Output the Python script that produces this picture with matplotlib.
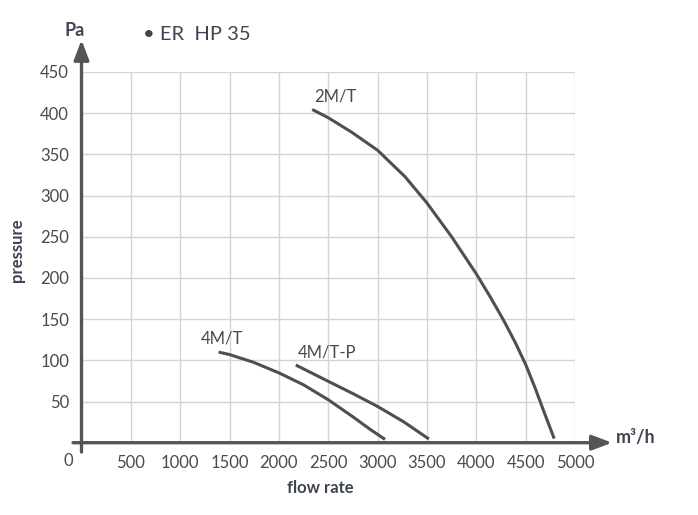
import matplotlib
matplotlib.use("Agg")
import matplotlib.pyplot as plt

plt.rcParams['font.family'] = ['Lato', 'DejaVu Sans']

# data
x_ticks = [500, 1000, 1500, 2000, 2500, 3000, 3500, 4000, 4500, 5000]
y_ticks = [50, 100, 150, 200, 250, 300, 350, 400, 450]

m2t_flow = [2338, 2500, 2736, 3000, 3277, 3500, 3750, 4000, 4141, 4275, 4393, 4500, 4594, 4678, 4789]
m2t_pres = [404.5, 394.5, 377, 355, 323, 291, 250, 205, 177, 149, 122, 95, 67, 40, 5]

m4t_flow = [1389, 1500, 1743, 2003, 2249, 2502, 2755, 2923, 3075]
m4t_pres = [110, 107, 97.6, 84.6, 70.3, 52, 31, 16.3, 4]

m4tp_flow = [2171, 2502, 2755, 3001, 3261, 3520]
m4tp_pres = [94.3, 74.4, 59.3, 43.9, 25.6, 4.5]

labels = ["2M/T", "4M/T", "4M/T-P"]
label_pos = [(2570, 420), (1420, 126), (2490, 109)]

W, H = 698, 515
fig = plt.figure(figsize=(W / 100, H / 100), dpi=100)
ax = fig.add_axes([81.5 / W, 1 - 442.7 / H, (575 - 81.5) / W, (442.7 - 72) / H])
ax.set_xlim(0, 5000)
ax.set_ylim(0, 450)

for s in ax.spines.values():
    s.set_visible(False)

ax.set_xticks(x_ticks)
ax.set_yticks(y_ticks)
ax.grid(True, color='#d4d4d4', linewidth=1.0)
ax.set_axisbelow(True)
ax.tick_params(length=0, labelsize=12, colors='#4a4a4a')
ax.tick_params(axis='x', pad=9)
ax.tick_params(axis='y', pad=9)
ax.text(-130, -12, "0", ha='center', va='top', fontsize=12, color='#4a4a4a')

line_c = '#4f4f4f'
for fx, py in [(m2t_flow, m2t_pres), (m4t_flow, m4t_pres), (m4tp_flow, m4tp_pres)]:
    ax.plot(fx, py, color=line_c, linewidth=2.2, solid_capstyle='butt',
            solid_joinstyle='round')

for lab, (lx, ly) in zip(labels, label_pos):
    ax.text(lx, ly, lab, ha='center', va='center', fontsize=12, color='#4a4a4a')

axis_c = '#555555'
arrow_style = '-|>,head_length=1.0,head_width=0.38'
ax.annotate('', xy=(5375, 0), xytext=(-86, 0), annotation_clip=False,
            arrowprops=dict(arrowstyle=arrow_style,
                            color=axis_c, lw=2.4, mutation_scale=12,
                            shrinkA=0, shrinkB=0))
ax.annotate('', xy=(0, 489), xytext=(0, -11.3), annotation_clip=False,
            arrowprops=dict(arrowstyle=arrow_style,
                            color=axis_c, lw=2.4, mutation_scale=12,
                            shrinkA=0, shrinkB=0))

def ftxt(px, py, s, **kw):
    fig.text(px / W, 1 - py / H, s, **kw)

ftxt(75, 30, "Pa", ha='center', va='center', fontsize=13, fontweight='bold', color='#3e4450')
ftxt(143, 35, "• ER  HP 35", ha='left', va='center', fontsize=14.5, color='#3e4450')
ftxt(17, 250, "pressure", ha='center', va='center', rotation=90, fontsize=12,
     fontweight='bold', color='#3e4450')
ftxt(320, 488, "flow rate", ha='center', va='center', fontsize=12, fontweight='bold', color='#3e4450')
ftxt(636, 437, "m³/h", ha='center', va='center', fontsize=13, fontweight='bold', color='#3e4450')

fig.savefig("out.png", dpi=100)
